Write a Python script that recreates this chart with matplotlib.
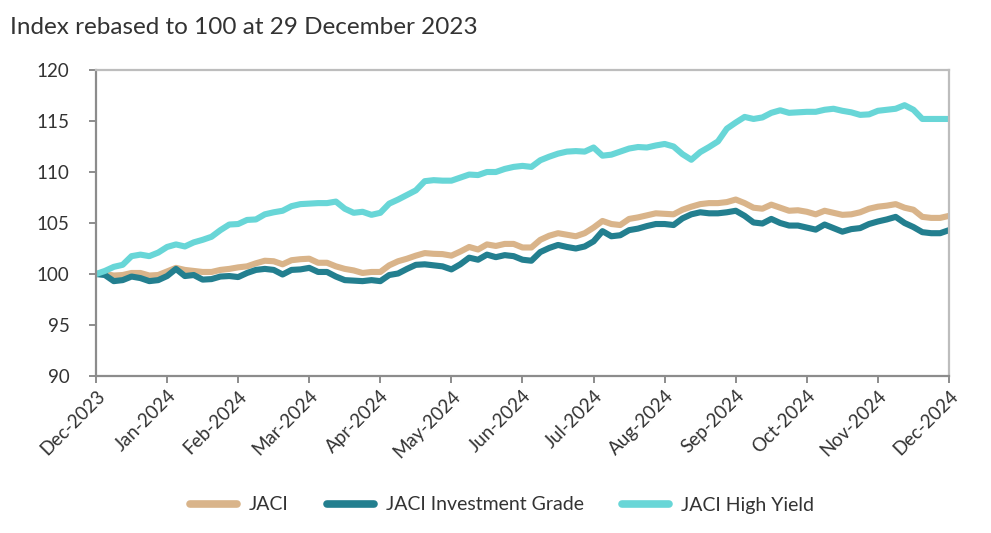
import numpy as np
import matplotlib
matplotlib.use("Agg")
import matplotlib.pyplot as plt
from matplotlib.ticker import FixedLocator, FixedFormatter

plt.rcParams['font.family'] = ['Lato', 'DejaVu Sans']

# ---- data (sampled every 1/8 month from 29 Dec 2023 to end Dec 2024) ----
month_labels = ["Dec-2023", "Jan-2024", "Feb-2024", "Mar-2024", "Apr-2024", "May-2024",
                "Jun-2024", "Jul-2024", "Aug-2024", "Sep-2024", "Oct-2024", "Nov-2024", "Dec-2024"]
steps_per_month = 8

jaci = [100.0, 100.0, 99.85, 99.9, 100.1, 100.1, 99.85, 99.9,
        100.25, 100.6, 100.4, 100.3, 100.2, 100.2, 100.4, 100.5,
        100.65, 100.75, 101.05, 101.3, 101.25, 100.95, 101.35, 101.45,
        101.5, 101.1, 101.1, 100.75, 100.5, 100.35, 100.1, 100.2,
        100.2, 100.85, 101.25, 101.5, 101.8, 102.05, 101.98, 101.95,
        101.8, 102.2, 102.65, 102.4, 102.9, 102.75, 102.95, 102.95,
        102.6, 102.6, 103.35, 103.75, 104.0, 103.85, 103.7, 104.0,
        104.55, 105.2, 104.9, 104.8, 105.4, 105.55, 105.75, 105.95,
        105.9, 105.85, 106.3, 106.6, 106.85, 106.95, 106.95, 107.05,
        107.3, 106.95, 106.5, 106.4, 106.8, 106.5, 106.2, 106.25,
        106.1, 105.85, 106.2, 106.0, 105.8, 105.85, 106.05, 106.4,
        106.6, 106.7, 106.85, 106.5, 106.3, 105.6, 105.5, 105.5,
        105.7]

jaci_ig = [100.0, 99.9, 99.3, 99.4, 99.75, 99.6, 99.3, 99.4,
           99.8, 100.5, 99.8, 99.9, 99.45, 99.5, 99.75, 99.8,
           99.7, 100.1, 100.4, 100.5, 100.4, 99.95, 100.4, 100.45,
           100.6, 100.2, 100.2, 99.75, 99.4, 99.35, 99.3, 99.4,
           99.3, 99.9, 100.05, 100.5, 100.9, 100.95, 100.85, 100.75,
           100.45, 100.95, 101.6, 101.4, 101.9, 101.65, 101.85, 101.75,
           101.4, 101.3, 102.15, 102.55, 102.85, 102.65, 102.5, 102.7,
           103.2, 104.2, 103.7, 103.8, 104.3, 104.45, 104.7, 104.9,
           104.9, 104.8, 105.45, 105.85, 106.05, 105.95, 105.95, 106.05,
           106.2, 105.7, 105.05, 104.95, 105.4, 105.0, 104.75, 104.75,
           104.55, 104.35, 104.85, 104.5, 104.15, 104.4, 104.5, 104.9,
           105.15, 105.35, 105.6, 105.0, 104.6, 104.1, 104.0, 104.0,
           104.3]

jaci_hy = [100.0, 100.3, 100.7, 100.9, 101.75, 101.9, 101.75, 102.1,
           102.65, 102.9, 102.7, 103.1, 103.35, 103.65, 104.3, 104.85,
           104.9, 105.3, 105.35, 105.85, 106.05, 106.2, 106.65, 106.85,
           106.9, 106.95, 106.95, 107.1, 106.4, 106.0, 106.1, 105.8,
           106.0, 106.9, 107.3, 107.75, 108.2, 109.1, 109.2, 109.15,
           109.15, 109.45, 109.75, 109.7, 110.0, 110.0, 110.3, 110.5,
           110.6, 110.5, 111.15, 111.5, 111.8, 112.0, 112.05, 112.0,
           112.4, 111.6, 111.7, 112.0, 112.3, 112.45, 112.4, 112.6,
           112.75, 112.5, 111.75, 111.2, 111.95, 112.45, 113.0, 114.25,
           114.85, 115.4, 115.2, 115.35, 115.8, 116.05, 115.8, 115.85,
           115.9, 115.9, 116.1, 116.2, 116.0, 115.85, 115.6, 115.65,
           116.0, 116.1, 116.2, 116.55, 116.1, 115.2, 115.2, 115.2,
           115.2]

series_names = ["JACI", "JACI Investment Grade", "JACI High Yield"]
series_colors = ["#D9B48A", "#237F8F", "#68D6D7"]
yticks = [90, 95, 100, 105, 110, 115, 120]

# ---- figure ----
fig = plt.figure(figsize=(9.91, 5.33), dpi=100)
ax = fig.add_axes([96/991, 1-376/533, (949-96)/991, (376-70)/533])

x = np.arange(len(jaci)) / steps_per_month
for vals, name, col in zip([jaci, jaci_ig, jaci_hy], series_names, series_colors):
    ax.plot(x, vals, color=col, lw=4.4, label=name, solid_capstyle='round',
            solid_joinstyle='round')

ax.set_xlim(0, len(month_labels) - 1)
ax.set_ylim(yticks[0], yticks[-1])
ax.yaxis.set_major_locator(FixedLocator(yticks))
ax.xaxis.set_major_locator(FixedLocator(range(len(month_labels))))
ax.xaxis.set_major_formatter(FixedFormatter(month_labels))

txt = "#333333"
for s in ["left", "bottom"]:
    ax.spines[s].set_color("#8C8C8C")
    ax.spines[s].set_linewidth(1.6)
for s in ["top", "right"]:
    ax.spines[s].set_color("#BDBDBD")
    ax.spines[s].set_linewidth(1.6)

ax.tick_params(axis='both', direction='out', length=5, width=1.4, color="#8C8C8C",
               labelcolor=txt, labelsize=13.5)
ax.tick_params(axis='y', pad=14)
ax.tick_params(axis='x', pad=3)
for lab in ax.get_xticklabels():
    lab.set_rotation(45)
    lab.set_ha('right')
    lab.set_va('top')
    lab.set_rotation_mode('anchor')

fig.text(10/991, 1-27/533, "Index rebased to 100 at 29 December 2023", fontsize=17.5,
         color=txt, ha='left', va='center')

leg = fig.legend(loc='center', bbox_to_anchor=(502/991, 1-505/533), ncol=3, frameon=False,
                 fontsize=14, handlelength=2.4, columnspacing=2.0, handletextpad=0.6)
for t in leg.get_texts():
    t.set_color(txt)
for h in leg.get_lines():
    h.set_linewidth(5.5)
    h.set_solid_capstyle('round')

fig.savefig("out.png", dpi=100)
